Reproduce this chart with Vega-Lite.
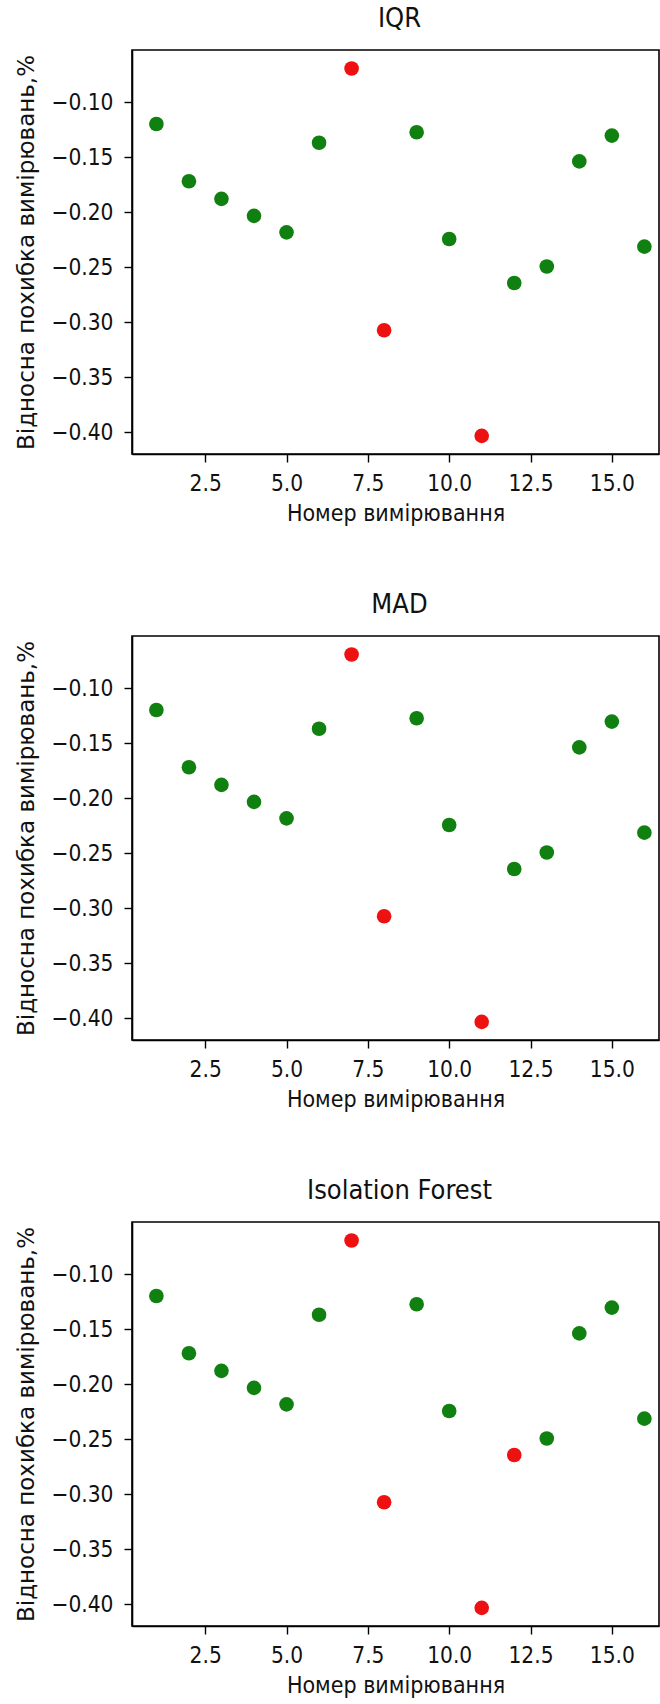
{
  "$schema": "https://vega.github.io/schema/vega-lite/v6.json",
  "background": "white",
  "padding": {"left": 15, "top": 3, "right": 0, "bottom": 0},
  "bounds": "flush",
  "spacing": 182,
  "datasets": {
    "pts": [
      {"method": "IQR", "n": 1, "v": -0.120, "outlier": "no"},
      {"method": "IQR", "n": 2, "v": -0.172, "outlier": "no"},
      {"method": "IQR", "n": 3, "v": -0.188, "outlier": "no"},
      {"method": "IQR", "n": 4, "v": -0.2035, "outlier": "no"},
      {"method": "IQR", "n": 5, "v": -0.2185, "outlier": "no"},
      {"method": "IQR", "n": 6, "v": -0.137, "outlier": "no"},
      {"method": "IQR", "n": 7, "v": -0.0695, "outlier": "yes"},
      {"method": "IQR", "n": 8, "v": -0.3075, "outlier": "yes"},
      {"method": "IQR", "n": 9, "v": -0.1275, "outlier": "no"},
      {"method": "IQR", "n": 10, "v": -0.2245, "outlier": "no"},
      {"method": "IQR", "n": 11, "v": -0.4035, "outlier": "yes"},
      {"method": "IQR", "n": 12, "v": -0.2645, "outlier": "no"},
      {"method": "IQR", "n": 13, "v": -0.2495, "outlier": "no"},
      {"method": "IQR", "n": 14, "v": -0.154, "outlier": "no"},
      {"method": "IQR", "n": 15, "v": -0.1305, "outlier": "no"},
      {"method": "IQR", "n": 16, "v": -0.2315, "outlier": "no"},
      {"method": "MAD", "n": 1, "v": -0.120, "outlier": "no"},
      {"method": "MAD", "n": 2, "v": -0.172, "outlier": "no"},
      {"method": "MAD", "n": 3, "v": -0.188, "outlier": "no"},
      {"method": "MAD", "n": 4, "v": -0.2035, "outlier": "no"},
      {"method": "MAD", "n": 5, "v": -0.2185, "outlier": "no"},
      {"method": "MAD", "n": 6, "v": -0.137, "outlier": "no"},
      {"method": "MAD", "n": 7, "v": -0.0695, "outlier": "yes"},
      {"method": "MAD", "n": 8, "v": -0.3075, "outlier": "yes"},
      {"method": "MAD", "n": 9, "v": -0.1275, "outlier": "no"},
      {"method": "MAD", "n": 10, "v": -0.2245, "outlier": "no"},
      {"method": "MAD", "n": 11, "v": -0.4035, "outlier": "yes"},
      {"method": "MAD", "n": 12, "v": -0.2645, "outlier": "no"},
      {"method": "MAD", "n": 13, "v": -0.2495, "outlier": "no"},
      {"method": "MAD", "n": 14, "v": -0.154, "outlier": "no"},
      {"method": "MAD", "n": 15, "v": -0.1305, "outlier": "no"},
      {"method": "MAD", "n": 16, "v": -0.2315, "outlier": "no"},
      {"method": "IF", "n": 1, "v": -0.120, "outlier": "no"},
      {"method": "IF", "n": 2, "v": -0.172, "outlier": "no"},
      {"method": "IF", "n": 3, "v": -0.188, "outlier": "no"},
      {"method": "IF", "n": 4, "v": -0.2035, "outlier": "no"},
      {"method": "IF", "n": 5, "v": -0.2185, "outlier": "no"},
      {"method": "IF", "n": 6, "v": -0.137, "outlier": "no"},
      {"method": "IF", "n": 7, "v": -0.0695, "outlier": "yes"},
      {"method": "IF", "n": 8, "v": -0.3075, "outlier": "yes"},
      {"method": "IF", "n": 9, "v": -0.1275, "outlier": "no"},
      {"method": "IF", "n": 10, "v": -0.2245, "outlier": "no"},
      {"method": "IF", "n": 11, "v": -0.4035, "outlier": "yes"},
      {"method": "IF", "n": 12, "v": -0.2645, "outlier": "yes"},
      {"method": "IF", "n": 13, "v": -0.2495, "outlier": "no"},
      {"method": "IF", "n": 14, "v": -0.154, "outlier": "no"},
      {"method": "IF", "n": 15, "v": -0.1305, "outlier": "no"},
      {"method": "IF", "n": 16, "v": -0.2315, "outlier": "no"}
    ]
  },
  "config": {
    "view": {"stroke": "black", "strokeWidth": 1.6},
    "axis": {
      "grid": false,
      "domainColor": "black",
      "domainWidth": 1.6,
      "tickColor": "black",
      "tickWidth": 1.4,
      "tickSize": 8,
      "labelFont": "DejaVu Sans Condensed",
      "labelFontSize": 22.5,
      "labelColor": "#111111",
      "titleFont": "DejaVu Sans Condensed",
      "titleFontSize": 23,
      "titleFontWeight": "normal",
      "titleColor": "#111111"
    },
    "axisX": {"labelPadding": 10, "titlePadding": 8},
    "axisY": {"labelPadding": 11, "titlePadding": 12},
    "title": {"font": "DejaVu Sans Condensed", "fontSize": 27, "fontWeight": "normal", "color": "#111111", "offset": 17.5, "dx": 4}
  },
  "vconcat": [
    {
      "title": "IQR",
      "width": 527,
      "height": 404,
      "data": {"name": "pts"},
      "transform": [{"filter": "datum.method === 'IQR'"}],
      "mark": {"type": "circle", "size": 214, "opacity": 1},
      "encoding": {
        "x": {"field": "n", "type": "quantitative", "scale": {"domain": [0.25, 16.45], "nice": false, "zero": false},
              "axis": {"values": [2.5, 5, 7.5, 10, 12.5, 15], "format": ".1f", "title": "Номер вимірювання", "labelFlush": false}},
        "y": {"field": "v", "type": "quantitative", "scale": {"domain": [-0.42, -0.0527], "nice": false, "zero": false},
              "axis": {"values": [-0.4, -0.35, -0.3, -0.25, -0.2, -0.15, -0.1], "format": ".2f", "title": "Відносна похибка вимірювань,%", "titleFont": "DejaVu Sans", "titleFontSize": 23, "labelFlush": false}},
        "color": {"field": "outlier", "type": "nominal", "scale": {"domain": ["no", "yes"], "range": ["#108010", "#ee1111"]}, "legend": null}
      }
    },
    {
      "title": "MAD",
      "width": 527,
      "height": 404,
      "data": {"name": "pts"},
      "transform": [{"filter": "datum.method === 'MAD'"}],
      "mark": {"type": "circle", "size": 214, "opacity": 1},
      "encoding": {
        "x": {"field": "n", "type": "quantitative", "scale": {"domain": [0.25, 16.45], "nice": false, "zero": false},
              "axis": {"values": [2.5, 5, 7.5, 10, 12.5, 15], "format": ".1f", "title": "Номер вимірювання", "labelFlush": false}},
        "y": {"field": "v", "type": "quantitative", "scale": {"domain": [-0.42, -0.0527], "nice": false, "zero": false},
              "axis": {"values": [-0.4, -0.35, -0.3, -0.25, -0.2, -0.15, -0.1], "format": ".2f", "title": "Відносна похибка вимірювань,%", "titleFont": "DejaVu Sans", "titleFontSize": 23, "labelFlush": false}},
        "color": {"field": "outlier", "type": "nominal", "scale": {"domain": ["no", "yes"], "range": ["#108010", "#ee1111"]}, "legend": null}
      }
    },
    {
      "title": "Isolation Forest",
      "width": 527,
      "height": 404,
      "data": {"name": "pts"},
      "transform": [{"filter": "datum.method === 'IF'"}],
      "mark": {"type": "circle", "size": 214, "opacity": 1},
      "encoding": {
        "x": {"field": "n", "type": "quantitative", "scale": {"domain": [0.25, 16.45], "nice": false, "zero": false},
              "axis": {"values": [2.5, 5, 7.5, 10, 12.5, 15], "format": ".1f", "title": "Номер вимірювання", "labelFlush": false}},
        "y": {"field": "v", "type": "quantitative", "scale": {"domain": [-0.42, -0.0527], "nice": false, "zero": false},
              "axis": {"values": [-0.4, -0.35, -0.3, -0.25, -0.2, -0.15, -0.1], "format": ".2f", "title": "Відносна похибка вимірювань,%", "titleFont": "DejaVu Sans", "titleFontSize": 23, "labelFlush": false}},
        "color": {"field": "outlier", "type": "nominal", "scale": {"domain": ["no", "yes"], "range": ["#108010", "#ee1111"]}, "legend": null}
      }
    }
  ]
}
